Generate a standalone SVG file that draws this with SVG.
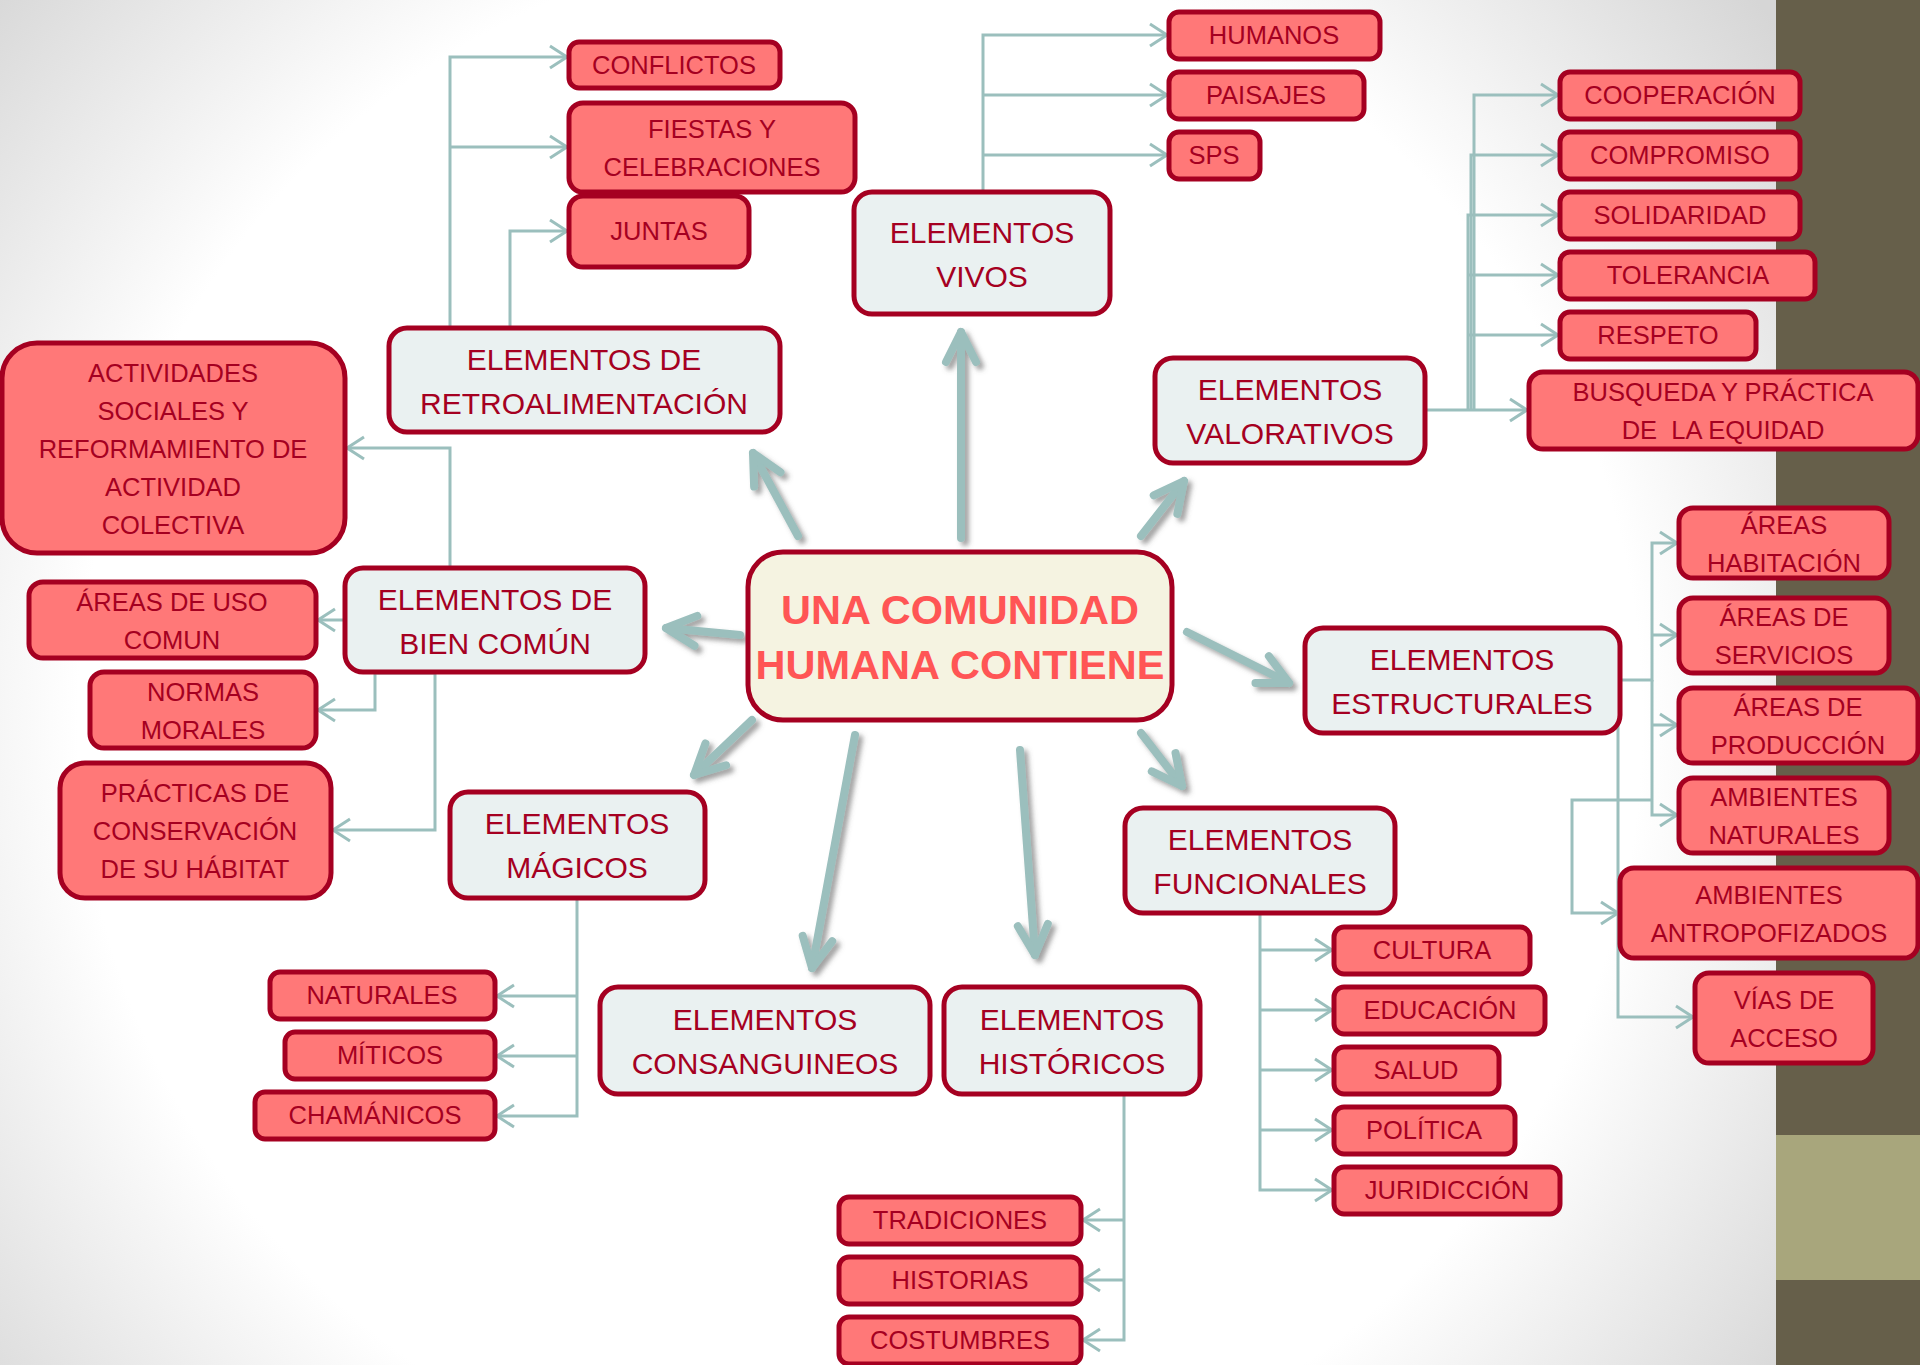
<svg xmlns="http://www.w3.org/2000/svg" width="1920" height="1365" viewBox="0 0 1920 1365">
<defs>
<radialGradient id="bg" gradientUnits="userSpaceOnUse" cx="860" cy="720" r="1150">
<stop offset="0" stop-color="#ffffff"/>
<stop offset="0.68" stop-color="#ffffff"/>
<stop offset="1" stop-color="#d6d6d6"/>
</radialGradient>
<filter id="sh" x="-20%" y="-20%" width="140%" height="140%">
<feDropShadow dx="4" dy="4" stdDeviation="2.5" flood-color="#555555" flood-opacity="0.55"/>
</filter>
<marker id="ta" markerUnits="userSpaceOnUse" viewBox="-22 -14 26 28" markerWidth="26" markerHeight="28" refX="0" refY="0" orient="auto" overflow="visible">
<path d="M-17,-11 L0,0 L-17,11" fill="none" stroke="#9BBFBD" stroke-width="3"/>
</marker>
<marker id="ka" markerUnits="userSpaceOnUse" viewBox="-40 -24 48 48" markerWidth="48" markerHeight="48" refX="0" refY="0" orient="auto" overflow="visible">
<path d="M-30,-15 L0,0 L-30,15" fill="none" stroke="#9BBFBD" stroke-width="8" stroke-linecap="round" stroke-linejoin="round"/>
</marker>
</defs>
<style>
.n rect{fill:#EAF1F1;stroke:#A50021;stroke-width:5}
.c rect{fill:#FF7878;stroke:#A50021;stroke-width:5}
.m rect{fill:#F5F3E1;stroke:#A50021;stroke-width:5}
text{font-family:"Liberation Sans",Arial,sans-serif;text-anchor:middle;fill:#A50021}
.n text{font-size:30px}
.c text{font-size:25.5px}
.m text{font-size:41.5px;font-weight:bold;fill:#FF5555}
.t{fill:none;stroke:#9BBFBD;stroke-width:3}
.k{fill:none;stroke:#9BBFBD;stroke-width:8;stroke-linecap:round}
</style>

<rect x="0" y="0" width="1920" height="1365" fill="url(#bg)"/>
<rect x="1776" y="0" width="144" height="1365" fill="#665F4A"/>
<rect x="1776" y="1135" width="144" height="145" fill="#A8A67C"/>

<g id="connectors">
<g id="thick-arrows" filter="url(#sh)">
<path class="k" d="M798,536 L753,453" marker-end="url(#ka)"/>
<path class="k" d="M961,538 L961,332" marker-end="url(#ka)"/>
<path class="k" d="M1141,536 L1184,481" marker-end="url(#ka)"/>
<path class="k" d="M740,635 L666,628" marker-end="url(#ka)"/>
<path class="k" d="M1187,632 L1289,683" marker-end="url(#ka)"/>
<path class="k" d="M1141,733 L1182,786" marker-end="url(#ka)"/>
<path class="k" d="M752,720 L694,775" marker-end="url(#ka)"/>
<path class="k" d="M855,735 L812,968" marker-end="url(#ka)"/>
<path class="k" d="M1020,750 L1035,955" marker-end="url(#ka)"/>
</g>
<g id="thin-connectors">
<path class="t" d="M450,328 V57 H567" marker-end="url(#ta)"/>
<path class="t" d="M450,147 H567" marker-end="url(#ta)"/>
<path class="t" d="M510,328 V231 H567" marker-end="url(#ta)"/>
<path class="t" d="M450,328 H510"/>
<path class="t" d="M450,567 V448 H347" marker-end="url(#ta)"/>
<path class="t" d="M345,620 H318" marker-end="url(#ta)"/>
<path class="t" d="M375,673 V710 H318" marker-end="url(#ta)"/>
<path class="t" d="M435,673 V830 H333" marker-end="url(#ta)"/>
<path class="t" d="M375,673 H435"/>
<path class="t" d="M577,898 V1116 H497" marker-end="url(#ta)"/>
<path class="t" d="M577,996 H497" marker-end="url(#ta)"/>
<path class="t" d="M577,1056 H497" marker-end="url(#ta)"/>
<path class="t" d="M1124,1094 V1340 H1083" marker-end="url(#ta)"/>
<path class="t" d="M1124,1220 H1083" marker-end="url(#ta)"/>
<path class="t" d="M1124,1280 H1083" marker-end="url(#ta)"/>
<path class="t" d="M1260,913 V1190 H1332" marker-end="url(#ta)"/>
<path class="t" d="M1260,950 H1332" marker-end="url(#ta)"/>
<path class="t" d="M1260,1010 H1332" marker-end="url(#ta)"/>
<path class="t" d="M1260,1070 H1332" marker-end="url(#ta)"/>
<path class="t" d="M1260,1130 H1332" marker-end="url(#ta)"/>
<path class="t" d="M983,192 V35 H1167" marker-end="url(#ta)"/>
<path class="t" d="M983,95 H1167" marker-end="url(#ta)"/>
<path class="t" d="M983,155 H1167" marker-end="url(#ta)"/>
<path class="t" d="M1427,410 H1527" marker-end="url(#ta)"/>
<path class="t" d="M1474,410 V95 H1558" marker-end="url(#ta)"/>
<path class="t" d="M1471,410 V155 H1558" marker-end="url(#ta)"/>
<path class="t" d="M1468,410 V215 H1558" marker-end="url(#ta)"/>
<path class="t" d="M1468,275 H1558" marker-end="url(#ta)"/>
<path class="t" d="M1468,335 H1558" marker-end="url(#ta)"/>
<path class="t" d="M1620,680 H1652 V543 H1677" marker-end="url(#ta)"/>
<path class="t" d="M1652,635 H1677" marker-end="url(#ta)"/>
<path class="t" d="M1652,725 H1677" marker-end="url(#ta)"/>
<path class="t" d="M1652,680 V815 H1677" marker-end="url(#ta)"/>
<path class="t" d="M1652,800 H1572 V913 H1618" marker-end="url(#ta)"/>
<path class="t" d="M1618,680 V1017 H1693" marker-end="url(#ta)"/>
</g>
</g>

<g id="center" class="m">
<rect x="748" y="552" width="424" height="168" rx="35"/>
<text x="960" y="624">UNA COMUNIDAD</text>
<text x="960" y="679">HUMANA CONTIENE</text>
</g>

<g id="retro" class="n">
<rect x="389" y="328" width="391" height="104" rx="18"/>
<text x="584" y="370">ELEMENTOS DE</text>
<text x="584" y="414">RETROALIMENTACIÓN</text>
</g>
<g id="vivos" class="n">
<rect x="854" y="192" width="256" height="122" rx="18"/>
<text x="982" y="243">ELEMENTOS</text>
<text x="982" y="287">VIVOS</text>
</g>
<g id="valorativos" class="n">
<rect x="1155" y="358" width="270" height="105" rx="18"/>
<text x="1290" y="400">ELEMENTOS</text>
<text x="1290" y="444">VALORATIVOS</text>
</g>
<g id="biencomun" class="n">
<rect x="345" y="568" width="300" height="104" rx="18"/>
<text x="495" y="610">ELEMENTOS DE</text>
<text x="495" y="654">BIEN COMÚN</text>
</g>
<g id="estructurales" class="n">
<rect x="1305" y="628" width="315" height="105" rx="18"/>
<text x="1462" y="670">ELEMENTOS</text>
<text x="1462" y="714">ESTRUCTURALES</text>
</g>
<g id="funcionales" class="n">
<rect x="1125" y="808" width="270" height="105" rx="18"/>
<text x="1260" y="850">ELEMENTOS</text>
<text x="1260" y="894">FUNCIONALES</text>
</g>
<g id="magicos" class="n">
<rect x="450" y="792" width="255" height="106" rx="18"/>
<text x="577" y="834">ELEMENTOS</text>
<text x="577" y="878">MÁGICOS</text>
</g>
<g id="consanguineos" class="n">
<rect x="600" y="987" width="330" height="107" rx="18"/>
<text x="765" y="1030">ELEMENTOS</text>
<text x="765" y="1074">CONSANGUINEOS</text>
</g>
<g id="historicos" class="n">
<rect x="944" y="987" width="256" height="107" rx="18"/>
<text x="1072" y="1030">ELEMENTOS</text>
<text x="1072" y="1074">HISTÓRICOS</text>
</g>

<g id="conflictos" class="c"><rect x="569" y="42" width="211" height="46" rx="10"/><text x="674" y="74">CONFLICTOS</text></g>
<g id="fiestas" class="c"><rect x="569" y="103" width="286" height="89" rx="14"/><text x="712" y="138">FIESTAS Y</text><text x="712" y="176">CELEBRACIONES</text></g>
<g id="juntas" class="c"><rect x="569" y="196" width="180" height="71" rx="14"/><text x="659" y="240">JUNTAS</text></g>
<g id="humanos" class="c"><rect x="1169" y="12" width="211" height="47" rx="10"/><text x="1274" y="44">HUMANOS</text></g>
<g id="paisajes" class="c"><rect x="1169" y="72" width="195" height="47" rx="10"/><text x="1266" y="104">PAISAJES</text></g>
<g id="sps" class="c"><rect x="1169" y="132" width="91" height="47" rx="10"/><text x="1214" y="164">SPS</text></g>
<g id="cooperacion" class="c"><rect x="1560" y="72" width="240" height="47" rx="10"/><text x="1680" y="104">COOPERACIÓN</text></g>
<g id="compromiso" class="c"><rect x="1560" y="132" width="240" height="47" rx="10"/><text x="1680" y="164">COMPROMISO</text></g>
<g id="solidaridad" class="c"><rect x="1560" y="192" width="240" height="47" rx="10"/><text x="1680" y="224">SOLIDARIDAD</text></g>
<g id="tolerancia" class="c"><rect x="1560" y="252" width="255" height="47" rx="10"/><text x="1688" y="284">TOLERANCIA</text></g>
<g id="respeto" class="c"><rect x="1560" y="312" width="196" height="47" rx="10"/><text x="1658" y="344">RESPETO</text></g>
<g id="equidad" class="c"><rect x="1529" y="372" width="389" height="77" rx="14"/><text x="1723" y="401">BUSQUEDA Y PRÁCTICA</text><text x="1723" y="439" xml:space="preserve">DE  LA EQUIDAD</text></g>
<g id="actividades" class="c"><rect x="2" y="343" width="343" height="210" rx="35"/>
<text x="173" y="382">ACTIVIDADES</text><text x="173" y="420">SOCIALES Y</text><text x="173" y="458">REFORMAMIENTO DE</text><text x="173" y="496">ACTIVIDAD</text><text x="173" y="534">COLECTIVA</text></g>
<g id="areasuso" class="c"><rect x="29" y="582" width="287" height="76" rx="14"/><text x="172" y="611">ÁREAS DE USO</text><text x="172" y="649">COMUN</text></g>
<g id="normas" class="c"><rect x="90" y="672" width="226" height="76" rx="14"/><text x="203" y="701">NORMAS</text><text x="203" y="739">MORALES</text></g>
<g id="practicas" class="c"><rect x="60" y="763" width="271" height="135" rx="25"/><text x="195" y="802">PRÁCTICAS DE</text><text x="195" y="840">CONSERVACIÓN</text><text x="195" y="878">DE SU HÁBITAT</text></g>
<g id="naturales" class="c"><rect x="270" y="972" width="225" height="47" rx="10"/><text x="382" y="1004">NATURALES</text></g>
<g id="miticos" class="c"><rect x="285" y="1032" width="210" height="47" rx="10"/><text x="390" y="1064">MÍTICOS</text></g>
<g id="chamanicos" class="c"><rect x="255" y="1092" width="240" height="47" rx="10"/><text x="375" y="1124">CHAMÁNICOS</text></g>
<g id="tradiciones" class="c"><rect x="839" y="1197" width="242" height="47" rx="10"/><text x="960" y="1229">TRADICIONES</text></g>
<g id="historias" class="c"><rect x="839" y="1257" width="242" height="47" rx="10"/><text x="960" y="1289">HISTORIAS</text></g>
<g id="costumbres" class="c"><rect x="839" y="1317" width="242" height="47" rx="10"/><text x="960" y="1349">COSTUMBRES</text></g>
<g id="cultura" class="c"><rect x="1334" y="927" width="196" height="47" rx="10"/><text x="1432" y="959">CULTURA</text></g>
<g id="educacion" class="c"><rect x="1334" y="987" width="211" height="47" rx="10"/><text x="1440" y="1019">EDUCACIÓN</text></g>
<g id="salud" class="c"><rect x="1334" y="1047" width="165" height="47" rx="10"/><text x="1416" y="1079">SALUD</text></g>
<g id="politica" class="c"><rect x="1334" y="1107" width="181" height="47" rx="10"/><text x="1424" y="1139">POLÍTICA</text></g>
<g id="juridiccion" class="c"><rect x="1334" y="1167" width="226" height="47" rx="10"/><text x="1447" y="1199">JURIDICCIÓN</text></g>
<g id="habitacion" class="c"><rect x="1679" y="508" width="210" height="70" rx="14"/><text x="1784" y="534">ÁREAS</text><text x="1784" y="572">HABITACIÓN</text></g>
<g id="servicios" class="c"><rect x="1679" y="598" width="210" height="75" rx="14"/><text x="1784" y="626">ÁREAS DE</text><text x="1784" y="664">SERVICIOS</text></g>
<g id="produccion" class="c"><rect x="1679" y="688" width="239" height="75" rx="14"/><text x="1798" y="716">ÁREAS DE</text><text x="1798" y="754">PRODUCCIÓN</text></g>
<g id="ambnaturales" class="c"><rect x="1679" y="778" width="210" height="75" rx="14"/><text x="1784" y="806">AMBIENTES</text><text x="1784" y="844">NATURALES</text></g>
<g id="antropofizados" class="c"><rect x="1620" y="868" width="298" height="90" rx="14"/><text x="1769" y="904">AMBIENTES</text><text x="1769" y="942">ANTROPOFIZADOS</text></g>
<g id="vias" class="c"><rect x="1695" y="973" width="178" height="90" rx="14"/><text x="1784" y="1009">VÍAS DE</text><text x="1784" y="1047">ACCESO</text></g>
</svg>
